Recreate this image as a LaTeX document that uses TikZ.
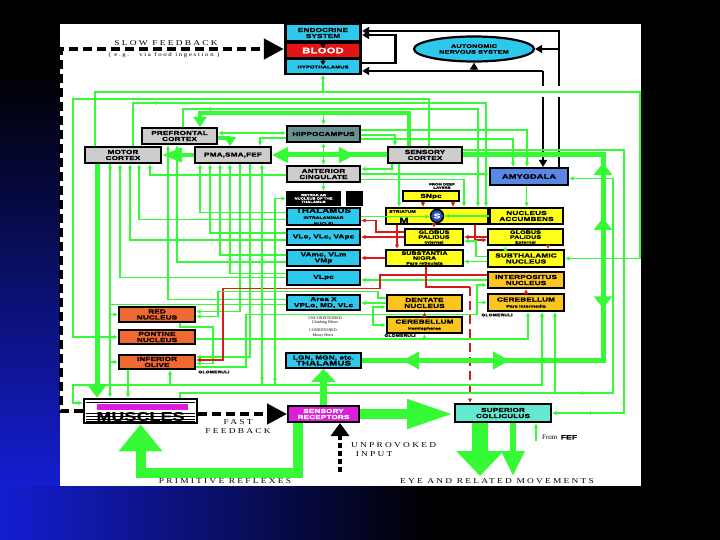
\documentclass[tikz,border=0pt]{standalone}
\usepackage{fontspec}
\setmainfont{Liberation Serif}
\newfontfamily\boxfont[FakeStretch=1.4,LetterSpace=3,BoldFeatures={FakeBold=1.5}]{Liberation Sans}
\newfontfamily\lblfont[FakeStretch=1.25,LetterSpace=30]{Liberation Serif}
\usetikzlibrary{arrows.meta, positioning, shapes.geometric, decorations.markings}
\newcommand{\tinytxt}{\fontsize{3.6}{3.9}\selectfont}
\newcommand{\bigtxt}{\fontsize{6.8}{7}\selectfont}
\definecolor{grn}{RGB}{55,250,55}
\definecolor{cyanbox}{RGB}{45,200,235}
\definecolor{graybox}{RGB}{205,205,205}
\definecolor{hippobox}{RGB}{105,145,145}
\definecolor{amygbox}{RGB}{90,135,230}
\definecolor{bgyellow}{RGB}{255,255,25}
\definecolor{cbgold}{RGB}{252,196,30}
\definecolor{bsorange}{RGB}{240,105,50}
\definecolor{magbox}{RGB}{220,30,220}
\definecolor{scbox}{RGB}{100,232,208}
\definecolor{bloodred}{RGB}{228,20,20}
\definecolor{redline}{RGB}{220,25,25}
\definecolor{slideblue}{RGB}{20,30,210}
\definecolor{sblue}{RGB}{35,80,190}

\begin{document}
\begin{tikzpicture}[x=1pt, y=-1pt,
    bx/.style 2 args={rectangle, draw=black, line width=2pt, minimum width=#1,
        minimum height=#2, inner sep=0pt, align=center,
        font=\boxfont\bfseries\fontsize{5.8}{6}\selectfont},
    gl/.style={draw=grn, line width=1.5pt, -{Latex[length=4.5pt,width=4.5pt]}},
    gd/.style={draw=grn, line width=1.5pt, {Latex[length=4.5pt,width=4.5pt]}-{Latex[length=4.5pt,width=4.5pt]}},
    gn/.style={draw=grn, line width=1.5pt},
    rl/.style={draw=redline, line width=1.5pt, -{Latex[length=4.5pt,width=4.5pt]}},
    rn/.style={draw=redline, line width=1.5pt},
    bl/.style={draw=black, line width=2.6pt, -{Triangle[length=7pt,width=8pt]}},
    dl/.style={draw=black, line width=4.5pt, dash pattern=on 9pt off 5pt},
    tinylbl/.style={font=\boxfont\bfseries\tinytxt, inner sep=0pt, align=center},
    serlbl/.style={font=\fontsize{4}{4.4}\selectfont, inner sep=0pt, align=center},
    biglbl/.style={font=\lblfont\fontsize{7.5}{9}\selectfont, inner sep=0pt, align=center},
    midmark/.style={postaction={decorate, decoration={markings,
        mark=at position #1 with {\arrow{Latex[length=4.5pt,width=4.5pt,color=grn]}}}}},
    midmark/.default=0.5
]
% slide background and white panel
\useasboundingbox (0,0) rectangle (720,540);
\fill[black] (0,0) rectangle (720,540);
\shade[top color=black, bottom color=slideblue] (0,70) rectangle (60,487);
\shade[left color=slideblue, right color=black] (0,486) rectangle (430,540);
\fill[white] (60,24) rectangle (641,486);

% endocrine column
\node[fill=black, minimum width=78pt, minimum height=52pt, inner sep=0pt] (endoframe) at (323,49) {};
\node[bx={72pt}{15pt}, draw=none, fill=cyanbox] (endo) at (323,33) {ENDOCRINE\\SYSTEM};
\node[bx={72pt}{13pt}, draw=none, fill=bloodred, text=white,
      font=\boxfont\bfseries\fontsize{8}{8}\selectfont] (blood) at (323,50.5) {BLOOD};
\node[bx={72pt}{13pt}, draw=none, fill=cyanbox,
      font=\boxfont\bfseries\fontsize{4.2}{4.2}\selectfont] (hypo) at (323,67) {HYPOTHALAMUS};
\node[ellipse, draw=black, line width=2.2pt, fill=cyanbox, minimum width=120pt,
      minimum height=25pt, inner sep=0pt, align=center,
      font=\boxfont\bfseries\fontsize{5.2}{5.8}\selectfont] (ans) at (474,49) {AUTONOMIC\\NERVOUS SYSTEM};

% cortex
\node[bx={75pt}{16pt}, fill=graybox] (prefrontal) at (179.5,136) {PREFRONTAL\\CORTEX};
\node[bx={76pt}{16pt}, fill=graybox] (motor) at (123,155) {MOTOR\\CORTEX};
\node[bx={76pt}{16pt}, fill=graybox] (pma) at (233,155) {PMA,SMA,FEF};
\node[bx={73pt}{16pt}, fill=hippobox] (hippo) at (323.5,134) {HIPPOCAMPUS};
\node[bx={73pt}{16pt}, fill=graybox] (antcing) at (323.5,174) {ANTERIOR\\CINGULATE};
\node[bx={74pt}{16pt}, fill=graybox] (sensory) at (425,155) {SENSORY\\CORTEX};
\node[bx={78pt}{17pt}, fill=amygbox, font=\boxfont\bfseries\fontsize{6.5}{6.5}\selectfont] (amygdala) at (529,176.5) {AMYGDALA};

% thalamus
\node[bx={53pt}{13pt}, fill=black, text=white, font=\boxfont\bfseries\fontsize{3}{3.4}\selectfont] (retic) at (313.5,198.5) {RETICULAR\\NUCLEUS OF THE\\THALAMUS};
\node[bx={15pt}{13pt}, fill=black] (blacksq) at (354.5,198.5) {};
\node[bx={73pt}{17pt}, fill=cyanbox] (thal) at (323.5,216.5) {{\bigtxt THALAMUS}\\{\tinytxt INTRALAMINAR}\\{\tinytxt NUCLEI}};
\node[bx={73pt}{16pt}, fill=cyanbox] (vlo) at (323.5,237) {VLo, VLc, VApc};
\node[bx={73pt}{16pt}, fill=cyanbox] (vamc) at (323.5,258) {VAmc, VLm\\VMp};
\node[bx={73pt}{15pt}, fill=cyanbox] (vlpc) at (323.5,277.5) {VLpc};
\node[bx={73pt}{15pt}, fill=cyanbox] (areax) at (323.5,302.5) {Area X\\VPLo, MD, VLc};
\node[bx={75pt}{15pt}, fill=cyanbox] (lgn) at (323.5,360.5) {LGN, MGN, etc.\\{\bigtxt THALAMUS}};

% basal ganglia
\node[bx={56pt}{10pt}, fill=bgyellow] (snpc) at (431,196.5) {SNpc};
\node[bx={102pt}{16pt}, fill=bgyellow] (striatum) at (437,216) {};
\node[tinylbl, anchor=west] (striatlbl) at (389,211.5) {STRIATUM};
\node[font=\boxfont\bfseries\fontsize{8}{8}\selectfont, inner sep=0pt] (mlbl) at (404,220.5) {M};
\node[circle, draw=black, line width=1.5pt, fill=sblue, text=white, minimum size=13pt,
      inner sep=0pt, font=\boxfont\bfseries\fontsize{7}{7}\selectfont] (scirc) at (437,216) {S};
\node[bx={73pt}{16pt}, fill=bgyellow] (nacc) at (526.5,216) {NUCLEUS\\ACCUMBENS};
\node[bx={58pt}{16pt}, fill=bgyellow, font=\boxfont\bfseries\fontsize{5}{4.8}\selectfont] (gpi) at (434,237) {GLOBUS\\PALIDUS\\{\tinytxt Internal}};
\node[bx={75pt}{16pt}, fill=bgyellow, font=\boxfont\bfseries\fontsize{5}{4.8}\selectfont] (gpe) at (525.5,237) {GLOBUS\\PALIDUS\\{\tinytxt External}};
\node[bx={77pt}{16pt}, fill=bgyellow, font=\boxfont\bfseries\fontsize{5}{4.8}\selectfont] (snr) at (424.5,258) {SUBSTANTIA\\NIGRA\\{\tinytxt Pars reticulata}};
\node[bx={76pt}{17pt}, fill=bgyellow] (stn) at (526,258.5) {SUBTHALAMIC\\NUCLEUS};
\node[tinylbl, font=\boxfont\bfseries\fontsize{3}{3.4}\selectfont] (deeplbl) at (442,186) {FROM DEEP\\LAYERS};

% cerebellum
\node[bx={76pt}{16pt}, fill=cbgold] (interp) at (526,280) {INTERPOSITUS\\NUCLEUS};
\node[bx={76pt}{17pt}, fill=cbgold] (cbpi) at (526,302.5) {CEREBELLUM\\{\tinytxt Pars intermedia}};
\node[bx={75pt}{16pt}, fill=cbgold] (dentate) at (424.5,303) {DENTATE\\NUCLEUS};
\node[bx={75pt}{16pt}, fill=cbgold] (cbhem) at (424.5,325) {CEREBELLUM\\{\tinytxt Hemispheres}};
\node[tinylbl] (glom1) at (497,315) {GLOMERULI};
\node[tinylbl] (glom2) at (400,335.5) {GLOMERULI};

% brainstem
\node[bx={76pt}{15pt}, fill=bsorange] (rednuc) at (157,314.5) {RED\\NUCLEUS};
\node[bx={76pt}{14pt}, fill=bsorange] (pontine) at (157,337) {PONTINE\\NUCLEUS};
\node[bx={76pt}{14pt}, fill=bsorange] (olive) at (157,362) {INFERIOR\\OLIVE};
\node[tinylbl] (glom3) at (214,372) {GLOMERULI};

% periphery
\node[draw=black, line width=2.5pt, fill=white, minimum width=113pt, minimum height=24pt, inner sep=0pt] (muscles) at (140.5,411) {};
\foreach \yy in {402.5,413,416,419,421.5}
    \draw[black, line width=0.8pt] (86,\yy) -- (195,\yy);
\node[fill=magbox, minimum width=91pt, minimum height=5.5pt, inner sep=0pt] (musbar) at (142.5,407) {};
\node[font=\boxfont\bfseries\fontsize{12.5}{12.5}\selectfont, inner sep=0pt] (muslbl) at (140.5,416.5) {MUSCLES};
\node[bx={71pt}{16pt}, fill=magbox, text=white] (sensrec) at (323.5,414) {SENSORY\\RECEPTORS};
\node[bx={96pt}{18pt}, fill=scbox] (supcol) at (503,413) {SUPERIOR\\COLLICULUS};

% text labels
\node[biglbl] (slowlbl) at (166,43) {SLOW FEEDBACK};
\node[font=\lblfont\fontsize{5.5}{6}\selectfont, inner sep=0pt] (slownote) at (164,55) {( e.g.\ \ \ via food ingestion )};
\node[biglbl] (fastlbl) at (238,426.5) {FAST\\FEEDBACK};
\node[biglbl, anchor=west, align=left] (unprovlbl) at (351,449.5) {UNPROVOKED\\\ INPUT};
\node[biglbl] (primlbl) at (225,481.5) {PRIMITIVE REFLEXES};
\node[biglbl] (eyelbl) at (497,481.5) {EYE AND RELATED MOVEMENTS};
\node[font=\fontsize{7}{7}\selectfont, inner sep=0pt, anchor=west] (feflbl) at (542,437) {From \ {\boxfont\bfseries\fontsize{6}{6}\selectfont FEF}};
\node[serlbl] (uncondlbl) at (325,320.5) {UNCONDITIONED\\Climbing Fibers};
\node[serlbl] (condlbl) at (323,333) {CONDITIONED\\Mossy fibers};

% junction points
\coordinate (bus) at (323,92);
\coordinate (thk) at (323.5,114);
\coordinate (mxa) at ([xshift=-13pt]motor.south);
\coordinate (cfa) at (373,314.5);
\coordinate (cfb) at (477,314.5);
\coordinate (mossy) at (424.5,339);
\coordinate (asca) at (262,385);
\coordinate (ascb) at (275,385);
\coordinate (olvin) at (170,385);
\coordinate (cbin) at (555,393);
\coordinate (rj) at (470,287);
\coordinate (bj) at (559,49);
\coordinate (bk) at (543,71);
\coordinate (unprov) at (340,472);
\coordinate (eyea) at (480,476);
\coordinate (eyeb) at (513,476);
\coordinate (fef) at (536,441);

% black autonomic / endocrine links
\draw[bl] ([xshift=30pt]amygdala.north) |- ([yshift=18pt]endoframe.east);
\draw[bl] (bj) -- (ans.east);
\draw[bl] (bk) -- ([yshift=-22pt]endoframe.east);
\draw[bl] (bk) -- ([xshift=14pt]amygdala.north);
\draw[bl] (bk -| ans.south) -- (ans.south);
\draw[bl] ([yshift=-14pt]endoframe.east) -- ++(33,0) |- ([yshift=14pt]endoframe.east);
\draw[black, line width=1.2pt, -{Triangle[length=4pt,width=5pt]}] (endo.south) -- ++(0,7);
\draw[black, line width=1.2pt, -{Triangle[length=4pt,width=5pt]}] (blood.south) -- ++(0,7);
\fill[white] (538,86) rectangle (564,97);

% green: long cortical lines
\draw[gl] ([xshift=-28pt]motor.north) |- (640,92) |- (stn.east);
\draw[gl] (bus) -- (hypo.south);
\draw[gl] ([xshift=4pt]sensory.north) |- (73,99) |- (pontine.west);
\draw[gl, midmark=0.14] ([xshift=10pt]motor.north) |- (486,103) -- ([xshift=49pt]striatum.north);
\draw[gl, midmark=0.12] ([xshift=3.5pt]prefrontal.north) |- (478,109) -- ([xshift=41pt]striatum.north);
\draw[gl] (thk) -- (hippo.north);

% hippocampus, cingulate, sensory cortex
\draw[gd] ([yshift=3pt]prefrontal.east) -- ([yshift=1pt]hippo.west);
\draw[gl] ([yshift=-4pt]hippo.west) -| ([xshift=27pt]pma.north);
\draw[gd] (hippo.south) -- (antcing.north);
\draw[gl] (antcing.south) -- ([xshift=10pt]retic.north);
\draw[gl] ([yshift=4pt]hippo.east) -| ([xshift=-2pt]amygdala.north);
\draw[gl] ([yshift=-1pt]hippo.east) -| ([xshift=-30pt]sensory.north);
\draw[gl] ([yshift=-5pt]hippo.east) -| ([xshift=-16pt]amygdala.north);
\draw[gl] (antcing.east) -- ([yshift=2.5pt]amygdala.west);
\draw[gl] ([xshift=-33pt]sensory.south) |- ([yshift=5pt]antcing.east);
\draw[gl] ([yshift=-5.5pt]antcing.east) -| ([xshift=27pt]striatum.north);
\draw[gl] ([xshift=-26pt]sensory.south) -- ([xshift=-38pt]striatum.north);

% thalamo-cortical
\draw[gl] ([yshift=-1pt]antcing.west) -| ([xshift=27pt]motor.south);
\draw[gl] ([yshift=-3pt]thal.west) -| ([xshift=16pt]motor.south);
\draw[gl] ([yshift=-3pt]vlo.west) -| ([xshift=7pt]motor.south);
\draw[gl] (vlpc.west) -| ([xshift=-3pt]motor.south);
\draw[gl] ([yshift=-2pt]areax.west) -| (mxa);
\draw[gl] ([yshift=4pt]thal.west) -| ([xshift=-33pt]pma.south);
\draw[gl] ([yshift=4pt]vlo.west) -| ([xshift=-23pt]pma.south);
\draw[gl] ([yshift=3pt]vamc.west) -| ([xshift=-13pt]pma.south);
\draw[gl] ([yshift=4pt]vlpc.west) -| ([xshift=-3pt]pma.south);
\draw[gl] ([yshift=-4pt]vamc.west) -| ([xshift=-2.5pt]prefrontal.south);
\draw[gl] ([yshift=3pt]areax.west) -| ([xshift=-11.5pt]prefrontal.south);

% descending
\draw[gl] (mxa) -- ([xshift=-30.5pt]muscles.north);
\draw[gl] (mxa |- rednuc.west) -- (rednuc.west);
\draw[gl] (mxa |- olive.west) -- (olive.west);
\draw[gl] ([xshift=7pt]pma.south) |- ([yshift=3pt]rednuc.east);
\draw[gl] ([xshift=17pt]pma.south) |- ([yshift=5pt]olive.east);
\draw[gl] ([xshift=23pt]rednuc.south) |- (213,327) |- ([yshift=-1.5pt]olive.east);
\draw[gl] ([xshift=-29pt]olive.south) -- ([xshift=-12.5pt]muscles.north);

% pontine and olivary inputs to cerebellum
\draw[gl] ([yshift=-2pt]pontine.east) -| ([xshift=2pt]cbpi.south);
\draw[gl] (mossy) -- (cbhem.south);
\draw[gn] ([yshift=-5pt]olive.east) -- ++(50,0) |- (cfb);
\draw[gl] (cfb) |- ([yshift=-5pt]interp.west);
\draw[gl] (cfb |- cbpi.west) -- (cbpi.west);
\draw[gl] (cfa) |- ([yshift=-4pt]dentate.west);
\draw[gl] (cfa) |- (cbhem.west);

% cerebellar outputs
\draw[gl] (interp.west) -- (interp.west -| vlpc.east);
\draw[gl] (dentate.west) -- (dentate.west -| areax.east);
\draw[rl] ([yshift=5pt]interp.west) -- ++(-107,0) |- (223,288.5) |- ([yshift=2pt]olive.east);
\draw[gl] ([yshift=5pt]dentate.west) -- ++(-8,0) |- (218,291.5) |- ([yshift=-2pt]rednuc.east);
\draw[rl] (cbhem.north) -- (dentate.south);
\draw[rl] (cbpi.north) -- (interp.south);

% basal ganglia
\draw[rl] ([xshift=-8pt]snpc.south) -- ([xshift=-14pt]striatum.north);
\draw[rl] ([xshift=22pt]snpc.south) -- ([xshift=16pt]striatum.north);
\draw[gl] (thal.east) -- (thal.east -| scirc.west);
\draw[gl] (nacc.west) -- (nacc.west -| scirc.east);
\draw[gl] (amygdala.south -| nacc.north) -- (nacc.north);
\draw[rl] ([xshift=-3pt]scirc.south) -- (gpi.north);
\draw[rl] ([xshift=-40pt]striatum.south) -- ([xshift=-27.5pt]snr.north);
\draw[rl] ([xshift=38pt]striatum.south) |- ([yshift=-3pt]gpe.west);
\draw[rl] (gpe.west) -- (gpe.west -| gpi.east);
\draw[rl] (gpi.west) -- (gpi.west -| vlo.east);
\draw[rl] ([yshift=5pt]gpi.west) -- ++(-28,0) |- ([yshift=-4pt]thal.east);
\draw[rl] (snr.west) -- (snr.west -| vamc.east);
\draw[gl] ([xshift=-20.5pt]stn.north) -- ([xshift=-20pt]gpe.south);
\draw[rl] ([xshift=22.5pt]gpe.south) -- ([xshift=22pt]stn.north);
\draw[gl] ([yshift=2pt]stn.west) -- ++(-11,0) |- ([yshift=-4pt]gpi.east);
\draw[gl] ([yshift=-3pt]stn.west) -- ([yshift=-3.5pt]snr.east);
\draw[rn] ([xshift=1.5pt]snr.south) |- (rj);
\draw[rl, dash pattern=on 9pt off 5pt] (rj) -- (rj |- supcol.north);

% ascending and peripheral lines
\draw[gd] ([xshift=16pt]cbpi.south) |- (73,385) |- ([yshift=8pt]muscles.west);
\draw[gl, midmark=0.05] (asca) -- ([xshift=29pt]pma.south);
\draw[gl, midmark=0.05] (ascb) |- (retic.west);
\draw[gl] (olvin) -- ([xshift=13pt]olive.south);
\draw[gl, midmark=0.59] ([xshift=39.5pt]muscles.north) |- (613,393) |- ([yshift=-2pt]amygdala.east);
\draw[gl] (cbin) -- ([xshift=29pt]cbpi.south);
\draw[gl, midmark=0.93] ([yshift=5pt]sensory.east) -- ++(161,0) |- (supcol.east);
\draw[gl] (fef) -- (supcol.south -| fef);

% thick green pathways
\draw[draw=grn, line width=4pt, -{Triangle[length=10pt,width=13pt]}] ([xshift=-16pt]sensory.north) -- ++(0,-33) -| ([xshift=20.5pt]prefrontal.north);
\draw[draw=grn, line width=3.5pt, -{Triangle[length=9pt,width=12pt]}] ([yshift=-2pt]prefrontal.east) -| ([xshift=-3pt]pma.north);
\draw[draw=grn, line width=4pt, -{Triangle[length=20pt,width=14pt]}] (pma.west) -- (motor.east);
\draw[draw=grn, line width=5pt, {Triangle[length=16pt,width=15pt]}-,
      postaction={decorate, decoration={markings,
        mark=at position 0.72 with {\arrow{Triangle[length=16pt,width=15pt,color=grn]}}}}]
      (pma.east) -- (sensory.west);
\draw[draw=grn, line width=5pt,
      postaction={decorate, decoration={markings,
        mark=at position 0.252 with {\arrowreversed{Triangle[length=12pt,width=18pt,color=grn]}},
        mark=at position 0.346 with {\arrowreversed{Triangle[length=12pt,width=18pt,color=grn]}},
        mark=at position 0.50 with {\arrow{Triangle[length=12pt,width=18pt,color=grn]}},
        mark=at position 0.749 with {\arrowreversed{Triangle[length=16pt,width=17pt,color=grn]}},
        mark=at position 0.93 with {\arrow{Triangle[length=16pt,width=17pt,color=grn]}}}}]
      (sensory.east) -- ++(140,0) |- (lgn.east);
\draw[draw=grn, line width=5pt, -{Triangle[length=14pt,width=20pt]}] ([xshift=-26pt]motor.south) -- ([xshift=-43.5pt]muscles.north);
\draw[draw=grn, line width=10pt, -{Triangle[length=27pt,width=42pt]}] ([xshift=-25.5pt]sensrec.south) -- ++(0,50) -| (muscles.south);
\draw[draw=grn, line width=10pt, -{Triangle[length=47pt,width=27pt]}] (sensrec.east) -- (sensrec.east -| supcol.west);
\draw[draw=grn, line width=7pt, -{Triangle[length=13pt,width=24pt]}] (sensrec.north) -- (lgn.south);
\draw[draw=grn, line width=16pt, -{Triangle[length=25pt,width=46pt]}] (supcol.south -| eyea) -- (eyea);
\draw[draw=grn, line width=6pt, -{Triangle[length=25pt,width=22pt]}] (supcol.south -| eyeb) -- (eyeb);

% feedback loops (dashed)
\draw[dl, -{Triangle[length=20pt,width=20pt]}] (muscles.west) -- ++(-22,0) |- (endoframe.west);
\draw[dl, -{Triangle[length=20pt,width=20pt]}] (muscles.east |- sensrec.west) -- (sensrec.west);
\draw[dl, dash pattern=on 5pt off 3pt, -{Triangle[length=13pt,width=18pt]}] (unprov) -- (unprov |- sensrec.south);
\end{tikzpicture}
\end{document}
